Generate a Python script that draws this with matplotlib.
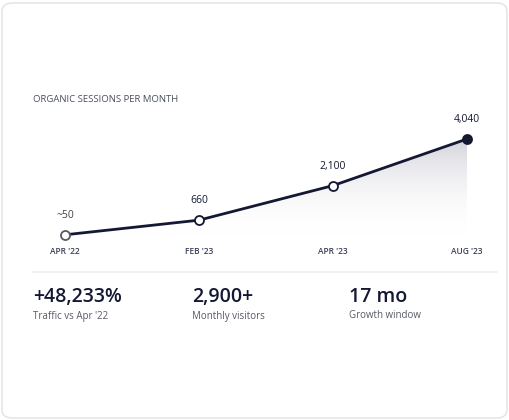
import matplotlib
matplotlib.use("Agg")
import matplotlib.pyplot as plt
import numpy as np
from matplotlib.patches import FancyBboxPatch, Polygon
from matplotlib.colors import LinearSegmentedColormap

plt.rcParams['font.family'] = ['Open Sans', 'DejaVu Sans']

months = ["APR '22", "FEB '23", "APR '23", "AUG '23"]
sessions = [50, 660, 2100, 4040]
point_labels = ["~50", "660", "2,100", "4,040"]
stat_values = ["+48,233%", "2,900+", "17 mo"]
stat_labels = ["Traffic vs Apr '22", "Monthly visitors", "Growth window"]

W, H = 510, 420
fig = plt.figure(figsize=(W/100, H/100), dpi=100)
fig.patch.set_facecolor('white')
card = FancyBboxPatch((2/W, 2/H), 505/W, 415/H, boxstyle="round,pad=0,rounding_size=0.02",
                      transform=fig.transFigure, facecolor='white', edgecolor='#e2e2e6', lw=1, zorder=-10)
fig.patches.append(card)

dark = '#141833'
fig.text(33/W, 1-100/H, "ORGANIC SESSIONS PER MONTH", fontsize=6.8, color='#4a4f5c', va='center')

ax = fig.add_axes([65/W, 1-236/H, 402/W, 97/H])
ax.patch.set_alpha(0)
x = np.arange(len(sessions))
ax.set_xlim(0, 3); ax.set_ylim(0, 4040)
ax.axis('off')

grad = np.linspace(0, 1, 256).reshape(-1, 1)
cmap = LinearSegmentedColormap.from_list('g', [(1, 1, 1, 0), (0.80, 0.80, 0.84, 0.85)])
im = ax.imshow(grad, extent=[0, 3, 0, 4040], origin='lower', aspect='auto', cmap=cmap, zorder=1)
poly = Polygon(list(zip(x, sessions)) + [(3, 0), (0, 0)], closed=True, transform=ax.transData)
im.set_clip_path(poly)

ax.plot(x, sessions, color=dark, lw=2, zorder=2, clip_on=False)
for i, (xi, v) in enumerate(zip(x, sessions)):
    last = i == len(sessions) - 1
    ec = '#555a66' if i == 0 else dark
    ax.plot(xi, v, 'o', ms=6.5, mfc=dark if last else 'white', mec=ec,
            mew=1.3, zorder=3, clip_on=False)
    ax.annotate(point_labels[i], (xi, v), xytext=(0, 10), textcoords='offset points',
                ha='center', va='bottom', fontsize=7.5, color=dark if i else '#444')
    ax.annotate(months[i], (xi, 0), xytext=(0, -11), textcoords='offset points',
                ha='center', va='center', fontsize=6, color='#3a3f55', fontweight='semibold')

fig.add_artist(plt.Line2D([33/W, 497/W], [1-272/H, 1-272/H], color='#ececef', lw=1.2))
for xs, v, l in zip([33, 192, 349], stat_values, stat_labels):
    fig.text(xs/W, 1-297/H, v, fontsize=14, color=dark, va='center', fontweight='semibold')
    fig.text(xs/W, 1-316/H, l, fontsize=7, color='#555a66', va='center')

fig.savefig('out.png', dpi=100, facecolor='white')
